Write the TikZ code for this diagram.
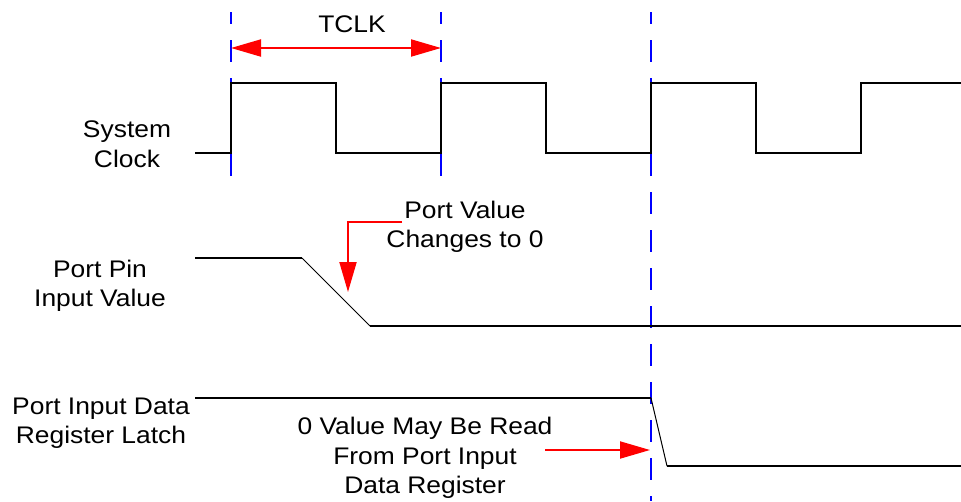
\documentclass[tikz,border=0pt]{standalone}
\usepackage{fontspec}
\setmainfont[FakeStretch=1.1]{Liberation Sans}
\usetikzlibrary{arrows.meta,positioning}
\tikzset{
  wave/.style={draw=black, line width=2pt, line join=miter},
  slope/.style={draw=black, line width=1pt},
  edgemark/.style={draw=blue, line width=2pt, dash pattern=on 22pt off 16pt, dash phase=10pt},
  redarrow/.style={draw=red, line width=2pt, -{Triangle[length=30pt,width=17pt]}},
  dblarrow/.style={draw=red, line width=2pt, {Triangle[length=30pt,width=17pt]}-{Triangle[length=30pt,width=17pt]}},
  sig/.style={font=\fontsize{24}{29.5}\selectfont, align=center, inner sep=0pt},
}

\begin{document}
\begin{tikzpicture}[x=1pt,y=-1pt]
  \useasboundingbox (0,0) rectangle (961,501);
  % clock edge markers
  \foreach \ex/\ey [count=\i] in {231/190,441/190,651/501} {
    \coordinate (M\i top) at (\ex,12);
    \coordinate (M\i bot) at (\ex,\ey);
    \draw[edgemark] (M\i top) -- (M\i bot);
  }
  % system clock
  \draw[wave] (195,153) -- (231,153) -- (231,83) -- (336,83) -- (336,153)
    -- (441,153) -- (441,83) -- (546,83) -- (546,153) -- (651,153)
    -- (651,83) -- (756,83) -- (756,153) -- (861,153) -- (861,83) -- (961,83);
  % port pin input value
  \draw[wave] (195,258) -- (302,258);
  \draw[slope] (302,258) -- (370,326);
  \draw[wave] (370,326) -- (961,326);
  % port input data register latch
  \draw[wave] (195,398) -- (651,398);
  \draw[slope] (651,398) -- (667,466);
  \draw[wave] (667,466) -- (961,466);
  % labels
  \node[sig] (clklbl) at (127,144) {System\\Clock};
  \node[sig] (pinlbl) at (100,286) {Port Pin\\Input Value};
  \node[sig] (latchlbl) at (101,423) {Port Input Data\\Register Latch};
  \node[sig] (tclk) at (352,24) {TCLK};
  \node[sig] (chg) at (465,227) {Port Value\\Changes to 0};
  \node[sig] (rd) at (425,458) {0 Value May Be Read\\From Port Input\\Data Register};
  % annotations
  \coordinate (T1) at (231,48);
  \coordinate (T2) at (441,48);
  \draw[dblarrow] (T1) -- (T2);
  \coordinate (chgstart) at (402,222);
  \coordinate (chgtip) at (348,292);
  \draw[redarrow] (chgstart) -| (chgtip);
  \coordinate (rdstart) at (545,450);
  \coordinate (rdtip) at (650,450);
  \draw[redarrow] (rdstart) -- (rdtip);
\end{tikzpicture}
\end{document}
